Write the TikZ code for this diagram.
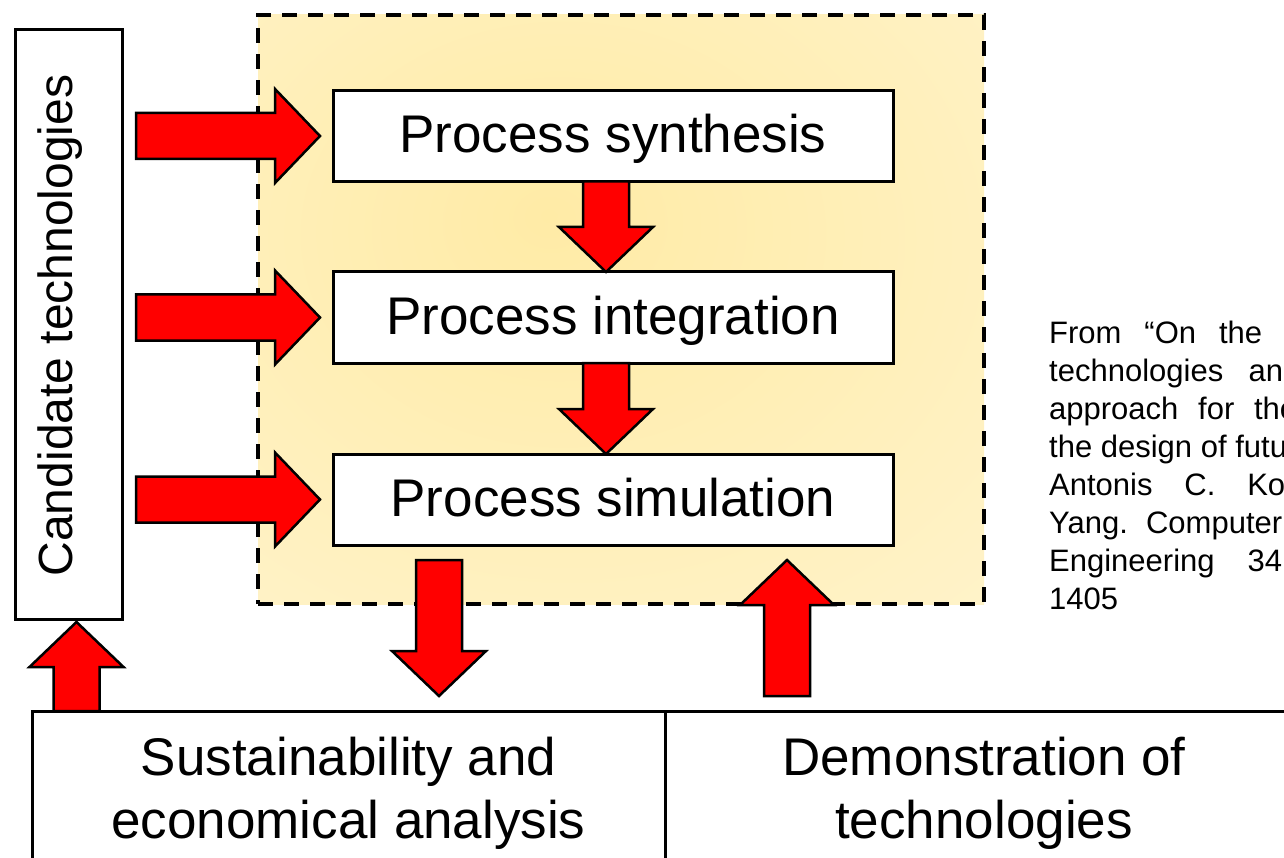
\documentclass[tikz,border=0pt]{standalone}
\usepackage{fontspec}
\setmainfont{Liberation Sans}
\usetikzlibrary{calc}
\frenchspacing

\definecolor{glowin}{RGB}{255,235,166}
\definecolor{glowout}{RGB}{255,247,219}
\definecolor{arrowred}{RGB}{255,0,0}

% soft yellow glow behind the three process steps
\pgfdeclareradialshading{panelglow}{\pgfpoint{-5bp}{8bp}}%
  {color(0bp)=(glowin); color(62bp)=(glowout); color(90bp)=(glowout)}

% block arrow dimensions
\newcommand\shaftw{23pt}
\newcommand\headw{47pt}
\newcommand\headl{45pt}

% block arrow from #1 (tail centre) to #2 (tip)
\newcommand\fatarrow[2]{%
  \path[fatarrowstyle] let \p1=(#1), \p2=(#2), \n1={atan2(\y2-\y1,\x2-\x1)} in
    ($(\p1)+({\n1-90}:\shaftw)$)
    -- ($(\p2)+({\n1+180}:\headl)+({\n1-90}:\shaftw)$)
    -- ($(\p2)+({\n1+180}:\headl)+({\n1-90}:\headw)$)
    -- (\p2)
    -- ($(\p2)+({\n1+180}:\headl)+({\n1+90}:\headw)$)
    -- ($(\p2)+({\n1+180}:\headl)+({\n1+90}:\shaftw)$)
    -- ($(\p1)+({\n1+90}:\shaftw)$) -- cycle;}

\tikzset{
  box/.style={draw=black, line width=3pt, fill=white, rectangle,
    outer sep=0pt, inner sep=0pt},
  procbox/.style={box, minimum width=560pt, minimum height=91pt,
    text height=45pt, text depth=11pt,
    font=\fontsize{53}{63}\selectfont},
  bigtext/.style={font=\fontsize{53}{63}\selectfont, align=center, inner sep=0pt},
  sidetext/.style={font=\fontsize{48}{58}\selectfont, inner sep=0pt,
    rotate=90, anchor=base},
  captext/.style={font=\fontsize{31}{38}\selectfont, anchor=base west, inner sep=0pt},
  fatarrowstyle/.style={draw=black, fill=arrowred, line width=2.5pt, line join=miter},
  panelbox/.style={rectangle, draw=black, line width=3.2pt, dash pattern=on 15pt off 11pt,
    shade, shading=panelglow, minimum width=726pt, minimum height=589pt,
    outer sep=0pt, inner sep=0pt}
}

\begin{document}
\begin{tikzpicture}[x=1pt, y=-1pt]
  \useasboundingbox (0,0) rectangle (1284,858);
  \fill[white] (0,0) rectangle (1284,858);
  \clip (0,0) rectangle (1284,858);

  % dashed panel with the process chain
  \node[panelbox] (panel) at (621,309.5) {};
  \node[procbox] (syn) at (613,136)   {Process synthesis};
  \node[procbox] (int) at (613,317.5) {Process integration};
  \node[procbox] (sim) at (613,499.5) {Process simulation};

  % candidate technologies column
  \node[box, minimum width=107pt, minimum height=589pt] (cand) at (68.5,324.5) {};
  \node[sidetext] (candtext) at (72,325.5) {Candidate technologies};

  % bottom row of boxes
  \node[box, minimum width=633pt, minimum height=150pt] (sus) at (348.5,786) {};
  \node[box, minimum width=638pt, minimum height=150pt] (demo) at (984,786) {};
  \node[bigtext] (sustext) at (348.5,793) {Sustainability and\\economical analysis};
  \node[bigtext] (demotext) at (984,793) {Demonstration of\\technologies};

  % citation
  \node[captext] (cap1) at (1049,343) {\makebox[213pt][s]{From “On the}};
  \node[captext] (cap2) at (1049,381) {\makebox[234pt][s]{technologies an}};
  \node[captext] (cap3) at (1049,419) {\makebox[248pt][s]{approach for the}};
  \node[captext] (cap4) at (1049,457) {the design of futu};
  \node[captext] (cap5) at (1049,495) {\makebox[236pt][s]{Antonis C. Ko}};
  \node[captext] (cap6) at (1049,533) {\makebox[233pt][s]{Yang. Computer}};
  \node[captext] (cap7) at (1049,571) {\makebox[233pt][s]{Engineering 34}};
  \node[captext] (cap8) at (1049,609) {1405};

  % arrow end points
  \coordinate (dtail) at ($(sim.south)+(-174,15)$);
  \coordinate (dtip)  at ($(dtail|-sus.north)+(0,-15)$);
  \coordinate (utip)  at ($(sim.south)+(174,15)$);
  \coordinate (utail) at ($(utip|-demo.north)+(0,-15)$);
  \coordinate (ltip)  at ($(cand.south)+(8,3)$);
  \coordinate (ltail) at (ltip|-sus.north);

  % candidate technologies feed every step
  \fatarrow{$(cand.east|-syn.west)+(14,0)$}{$(syn.west)+(-13,0)$}
  \fatarrow{$(cand.east|-int.west)+(14,0)$}{$(int.west)+(-13,0)$}
  \fatarrow{$(cand.east|-sim.west)+(14,0)$}{$(sim.west)+(-13,0)$}

  % process chain
  \fatarrow{$(syn.south)+(-7,0)$}{$(int.north)+(-7,0)$}
  \fatarrow{$(int.south)+(-7,0)$}{$(sim.north)+(-7,0)$}

  % links with the bottom row
  \fatarrow{dtail}{dtip}
  \fatarrow{utail}{utip}
  \fatarrow{ltail}{ltip}
\end{tikzpicture}
\end{document}
